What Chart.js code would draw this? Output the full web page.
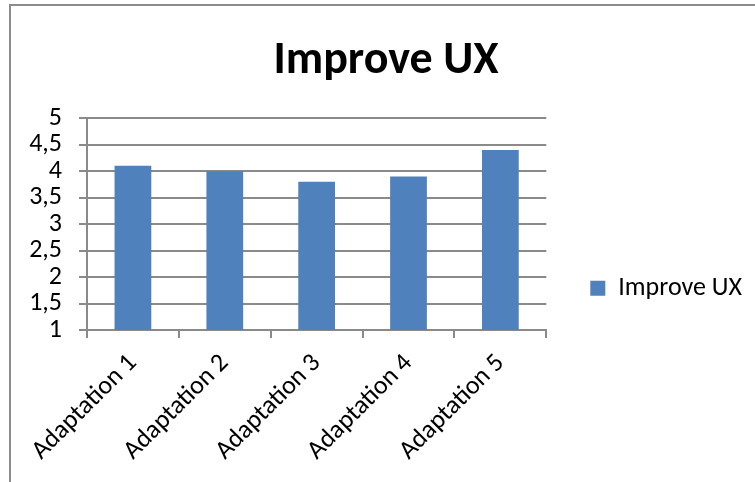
<!DOCTYPE html>
<html>
<head>
<meta charset="utf-8">
<script src="https://cdn.jsdelivr.net/npm/chart.js@4"></script>
<style>
  body { margin: 0; background: #fff; }
  #wrap { position: relative; width: 755px; height: 482px; }
  #frame {
    position: absolute; left: 9px; top: 4px; right: 0; bottom: 0;
    border-top: 2px solid #8c8c8c; border-left: 2px solid #8c8c8c;
    pointer-events: none;
  }
</style>
</head>
<body>
<div id="wrap">
  <canvas id="myChart" width="755" height="482"></canvas>
  <div id="frame"></div>
</div>
<script>
// Avaliação das adaptações
const categories = ['Adaptation 1', 'Adaptation 2', 'Adaptation 3', 'Adaptation 4', 'Adaptation 5'];
const seriesName = 'Improve UX';
const values = [4.1, 4.0, 3.8, 3.9, 4.4];
const yMin = 1;
const yMax = 5;
const yStep = 0.5;

const fontFamily = 'Carlito, Lato, sans-serif';
const gridColor = '#8a8a8a';

const ctx = document.getElementById('myChart').getContext('2d');
const chart = new Chart(ctx, {
    type: 'bar',
    data: {
        labels: categories,
        datasets: [{
            label: seriesName,
            data: values,
            backgroundColor: '#4F81BD',
            borderWidth: 0,
            categoryPercentage: 1,
            barPercentage: 0.4
        }]
    },
    options: {
        responsive: false,
        animation: false,
        layout: {
            padding: { left: 20, right: 3, top: 0, bottom: 0 }
        },
        scales: {
            x: {
                grid: {
                    display: true,
                    drawOnChartArea: false,
                    drawTicks: true,
                    tickLength: 8,
                    color: gridColor,
                    lineWidth: 2
                },
                border: { color: gridColor, width: 2 },
                ticks: {
                    color: '#000',
                    font: { family: fontFamily, size: 26 },
                    minRotation: 45,
                    maxRotation: 45,
                    padding: 10
                },
                afterFit: function(scale) {
                    scale.height = 152; // espaço para os rótulos inclinados
                }
            },
            y: {
                min: yMin,
                max: yMax,
                grid: {
                    color: gridColor,
                    lineWidth: 2,
                    tickLength: 8
                },
                border: { color: gridColor, width: 2 },
                ticks: {
                    stepSize: yStep,
                    autoSkip: false,
                    color: '#000',
                    padding: 17,
                    font: { family: fontFamily, size: 26 },
                    callback: function(value) {
                        return String(value).replace('.', ','); // vírgula decimal
                    }
                },
                afterFit: function(scale) {
                    scale.width = 67;
                }
            }
        },
        plugins: {
            title: {
                display: true,
                text: seriesName,
                color: '#000',
                font: { family: fontFamily, size: 46, weight: 'bold', lineHeight: 1.2 },
                padding: { top: 34, bottom: 29 }
            },
            legend: {
                position: 'right',
                maxWidth: 240,
                title: {
                    display: true,
                    text: '',
                    padding: { top: 80, bottom: 0 }
                },
                labels: {
                    color: '#000',
                    boxWidth: 15,
                    boxHeight: 15,
                    padding: 44,
                    font: { family: fontFamily, size: 26 }
                }
            },
            tooltip: { enabled: false }
        }
    }
});
</script>
</body>
</html>
